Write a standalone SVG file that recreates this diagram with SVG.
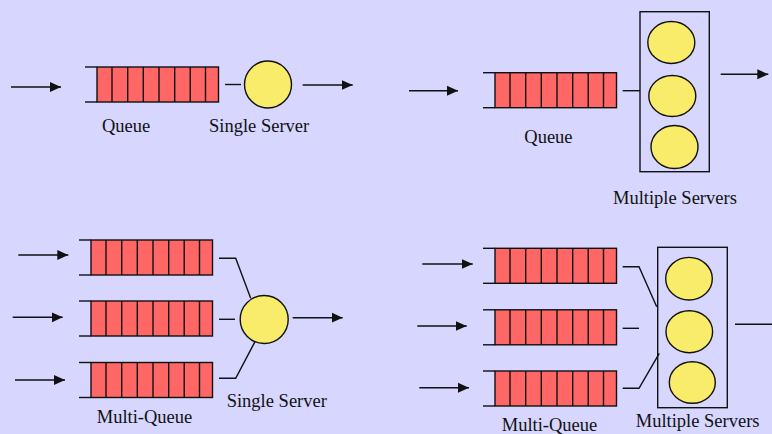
<svg xmlns="http://www.w3.org/2000/svg" xmlns:xlink="http://www.w3.org/1999/xlink" width="772" height="434" viewBox="0 0 772 434">
  <style>
    .ln { stroke: #111; stroke-width: 1.4; fill: none; }
    .arr { stroke: #111; stroke-width: 1.4; fill: none; marker-end: url(#head); }
    .cell { fill: #FF6666; stroke: #111; stroke-width: 1.4; }
    .srv { fill: #F8EC6A; stroke: #111; stroke-width: 1.4; }
    .box { fill: none; stroke: #111; stroke-width: 1.4; }
    .lbl { font-family: "Liberation Serif", "Times New Roman", serif; font-size: 18.5px; fill: #111; }
  </style>
  <defs>
    <marker id="head" markerUnits="userSpaceOnUse" markerWidth="12" markerHeight="12" viewBox="0 0 12 12" refX="11" refY="6" orient="auto">
      <path d="M0,1 L11,6 L0,11 Z" fill="#111"/>
    </marker>
    <!-- queue: open-ended buffer of eight slots, origin at first slot's top-left -->
    <g id="queue">
      <line class="ln" x1="-12" y1="0" x2="0" y2="0"/>
      <line class="ln" x1="-12" y1="35" x2="0" y2="35"/>
      <rect class="cell" x="0" y="0" width="121.5" height="35"/>
      <path class="ln" d="M15,0V35M30.7,0V35M46.3,0V35M62,0V35M77.7,0V35M93.2,0V35M108.5,0V35"/>
    </g>
  </defs>

  <rect width="772" height="434" fill="#D6D6FE"/>

  <!-- single queue, single server -->
  <g id="q1"><use xlink:href="#queue" x="97" y="67"/></g>
  <g id="s1"><circle class="srv" cx="268" cy="84.5" r="23.5"/></g>
  <text class="lbl" x="102" y="132">Queue</text>
  <text class="lbl" x="209" y="132">Single Server</text>

  <!-- single queue, multiple servers -->
  <g id="q2"><use xlink:href="#queue" x="495" y="72.7"/></g>
  <g id="m2">
    <rect class="box" x="640" y="11.7" width="69.3" height="160"/>
    <ellipse class="srv" cx="671.3" cy="42.5" rx="23.5" ry="21"/>
    <ellipse class="srv" cx="672.3" cy="96" rx="23.5" ry="20.5"/>
    <ellipse class="srv" cx="674.5" cy="147" rx="23.5" ry="21.5"/>
  </g>
  <text class="lbl" x="524.3" y="143">Queue</text>
  <text class="lbl" x="613" y="204">Multiple Servers</text>

  <!-- multiple queues, single server -->
  <g id="q3a"><use xlink:href="#queue" x="91" y="240"/></g>
  <g id="q3b"><use xlink:href="#queue" x="91" y="301"/></g>
  <g id="q3c"><use xlink:href="#queue" x="91" y="362.5"/></g>
  <g id="s3"><circle class="srv" cx="264.2" cy="319.5" r="24"/></g>
  <text class="lbl" x="96.7" y="423">Multi-Queue</text>
  <text class="lbl" x="226.7" y="407">Single Server</text>

  <!-- multiple queues, multiple servers -->
  <g id="q4a"><use xlink:href="#queue" x="495" y="248.3"/></g>
  <g id="q4b"><use xlink:href="#queue" x="495" y="309.8"/></g>
  <g id="q4c"><use xlink:href="#queue" x="495" y="371"/></g>
  <g id="m4">
    <rect class="box" x="657.7" y="247.3" width="69.6" height="160.4"/>
    <ellipse class="srv" cx="689" cy="278.7" rx="23.3" ry="21.3"/>
    <ellipse class="srv" cx="689.3" cy="331.7" rx="23.3" ry="21"/>
    <ellipse class="srv" cx="692.3" cy="382.5" rx="23" ry="20.8"/>
  </g>
  <text class="lbl" x="501.7" y="431">Multi-Queue</text>
  <text class="lbl" x="635.7" y="427">Multiple Servers</text>

  <g id="connectors">
    <!-- top left -->
    <line class="arr" x1="11" y1="87" x2="61" y2="87"/>
    <line class="ln" x1="225" y1="84.5" x2="241" y2="84.5"/>
    <line class="arr" x1="302.7" y1="85" x2="352.7" y2="85"/>
    <!-- top right -->
    <line class="arr" x1="409" y1="90.7" x2="458" y2="90.7"/>
    <line class="ln" x1="622.7" y1="90.7" x2="640" y2="90.7"/>
    <line class="arr" x1="720.7" y1="74.3" x2="768.3" y2="74.3"/>
    <!-- bottom left -->
    <line class="arr" x1="18.3" y1="255" x2="68.3" y2="255"/>
    <line class="arr" x1="12.7" y1="317.3" x2="62.7" y2="317.3"/>
    <line class="arr" x1="15" y1="380" x2="65" y2="380"/>
    <polyline class="ln" points="219,258.3 235.7,258.3 250.7,298.3"/>
    <line class="ln" x1="219" y1="319.3" x2="235" y2="319.3"/>
    <polyline class="ln" points="219,378.3 235.7,378.3 255,341.7"/>
    <line class="arr" x1="292.7" y1="317.7" x2="342.7" y2="317.7"/>
    <!-- bottom right -->
    <line class="arr" x1="422.3" y1="264" x2="472.7" y2="264"/>
    <line class="arr" x1="417.3" y1="326" x2="466.7" y2="326"/>
    <line class="arr" x1="419.3" y1="387.7" x2="469" y2="387.7"/>
    <polyline class="ln" points="622.7,266.7 639,266.7 656.7,306.7"/>
    <line class="ln" x1="622.7" y1="328.3" x2="639" y2="328.3"/>
    <polyline class="ln" points="622.7,388.3 639,388.3 659.3,353.3"/>
    <line class="ln" x1="735" y1="324.3" x2="772" y2="324.3"/>
  </g>
</svg>
